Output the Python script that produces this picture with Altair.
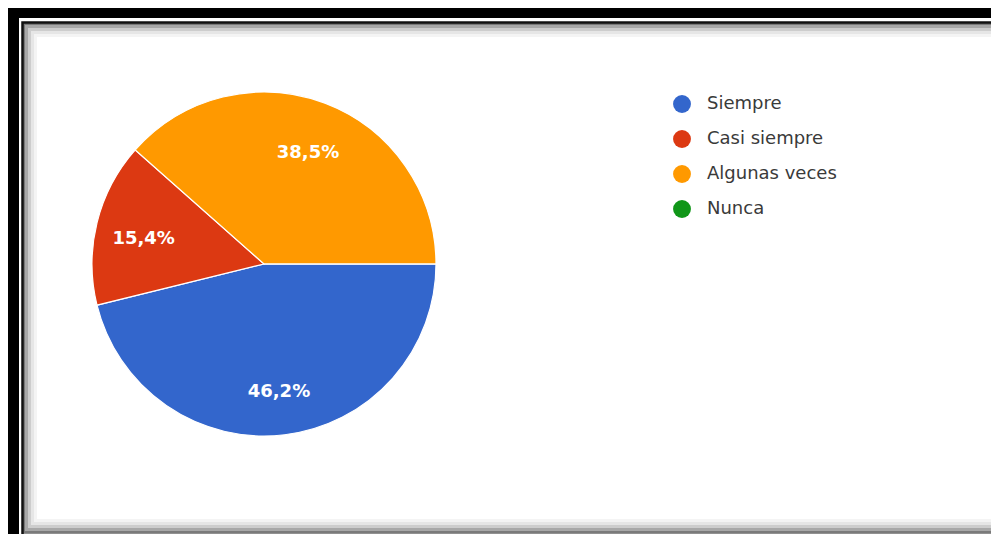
import math
import altair as alt
import pandas as pd

# ---- data ----
categories = ["Siempre", "Casi siempre", "Algunas veces", "Nunca"]
values = [46.2, 15.4, 38.5, 0.0]
labels = ["46,2%", "15,4%", "38,5%", ""]
colors = ["#3366cc", "#dc3912", "#ff9900", "#109618"]

W, H = 983, 526
CX, CY, R = 256, 256, 172

df = pd.DataFrame({"cat": categories, "val": values, "lab": labels, "idx": list(range(len(categories)))})
one = pd.DataFrame({"k": [0]})

theta_scale = alt.Scale(range=[math.pi / 2, math.pi / 2 + 2 * math.pi])

base = alt.Chart(df).encode(
    theta=alt.Theta("val:Q", stack=True, scale=theta_scale),
    order=alt.Order("idx:Q"),
)

pie = base.mark_arc(outerRadius=R, stroke="white", strokeWidth=1.2).encode(
    x=alt.value(CX),
    y=alt.value(CY),
    color=alt.Color(
        "cat:N",
        scale=alt.Scale(domain=categories, range=colors),
        sort=categories,
        legend=alt.Legend(
            title=None,
            orient="none",
            legendX=665,
            legendY=87,
            symbolType="circle",
            symbolSize=320,
            symbolStrokeWidth=0,
            labelFont="DejaVu Sans",
            labelFontSize=18,
            labelColor="#3a3a3a",
            labelOffset=16,
            rowPadding=17,
            padding=0,
        ),
    ),
)

text = base.transform_filter(alt.datum.val > 0).mark_text(
    radius=124, dy=5, font="DejaVu Sans", fontSize=18, fontWeight="bold", color="white",
    align="center", baseline="middle",
).encode(x=alt.value(CX), y=alt.value(CY), text="lab:N")

def rect(x, x2, y, y2, **kw):
    return alt.Chart(one).mark_rect(**kw).encode(
        x=alt.value(x), x2=alt.value(x2), y=alt.value(y), y2=alt.value(y2)
    )

frame = [
    rect(0, W, 0, 10, color="black"),
    rect(0, 11, 0, H, color="black"),
    # inner shadow gradient
    rect(16, W + 20, 16, H - 2, fill="#ffffff", stroke="#7a7a7a", strokeWidth=3),
    rect(18.5, W + 20, 18.5, H - 4.5, filled=False, stroke="#a8a8a8", strokeWidth=3),
    rect(21.5, W + 20, 21.5, H - 7.5, filled=False, stroke="#cdcdcd", strokeWidth=3),
    rect(24.5, W + 20, 24.5, H - 10.5, filled=False, stroke="#e6e6e6", strokeWidth=3),
    rect(27.5, W + 20, 27.5, H - 13.5, filled=False, stroke="#f4f4f4", strokeWidth=3),
    rect(14.5, W + 20, 14.5, H + 1, filled=False, stroke="#111111", strokeWidth=2.5),
]

chart = alt.layer(*frame, pie, text).properties(
    width=W, height=H, padding=0, autosize=alt.AutoSizeParams(type="none"),
    background="white",
).configure_view(stroke=None)

chart.save("out.html", embed_options={"renderer": "svg", "actions": False})
